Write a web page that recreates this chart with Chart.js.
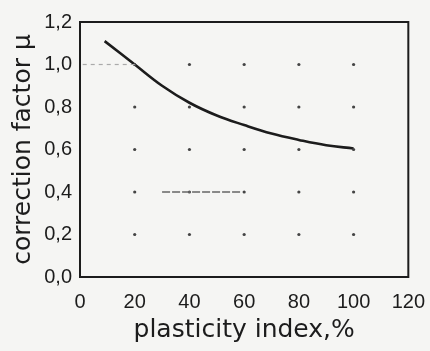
<!DOCTYPE html>
<html>
<head>
<meta charset="utf-8">
<script src="https://cdn.jsdelivr.net/npm/chart.js@4/dist/chart.umd.min.js"></script>
<style>
  html, body { margin: 0; padding: 0; background: #f5f5f3; }
  #wrap { width: 430px; height: 351px; }
</style>
</head>
<body>
<div id="wrap"><canvas id="plot-area"></canvas></div>
<script>
// curve
const plasticity = [9, 20, 30, 40, 50, 60, 70, 80, 90, 100];
const factor = [1.11, 1.0, 0.9, 0.82, 0.76, 0.715, 0.675, 0.645, 0.62, 0.605];

// dotted grid points of the original sheet
const gridX = [20, 40, 60, 80, 100];
const gridY = [0.2, 0.4, 0.6, 0.8, 1.0];

// faint dashes left on the scan
const dash10 = [{ x: 1, y: 1.0 }, { x: 20, y: 1.0 }];
const dash04 = [{ x: 30, y: 0.4 }, { x: 59, y: 0.4 }];

const ink = "#1c1c1c";

function drawPlot() {
  let curve = {
    label: "mu",
    type: "line",
    data: plasticity.map((x, i) => ({ x: x, y: factor[i] })),
    borderColor: ink,
    borderWidth: 2.6,
    tension: 0.4,
    pointRadius: 0,
    fill: false,
  };
  let dots = {
    label: "grid",
    type: "scatter",
    data: gridX.flatMap((x) => gridY.map((y) => ({ x: x, y: y }))),
    backgroundColor: "#444",
    borderWidth: 0,
    pointRadius: 1.6,
  };
  let d1 = {
    label: "d1",
    type: "line",
    data: dash10,
    borderColor: "#aaa",
    borderWidth: 1.2,
    borderDash: [4, 4],
    pointRadius: 0,
  };
  let d2 = {
    label: "d2",
    type: "line",
    data: dash04,
    borderColor: "#666",
    borderWidth: 1.3,
    borderDash: [8, 2],
    pointRadius: 0,
  };

  const frame = {
    id: "frame",
    beforeDraw(chart) {
      const c = chart.ctx;
      c.save();
      c.fillStyle = "#f5f5f3";
      c.fillRect(0, 0, chart.width, chart.height);
      c.restore();
    },
    afterDatasetsDraw(chart) {
      const a = chart.chartArea;
      const c = chart.ctx;
      c.save();
      c.strokeStyle = ink;
      c.lineWidth = 2;
      c.strokeRect(a.left, a.top, a.right - a.left, a.bottom - a.top);
      c.restore();
    },
  };

  const font = { family: "Liberation Sans", size: 20 };
  const titleFont = { family: "DejaVu Sans", size: 25 };

  const config = {
    type: "scatter",
    data: { datasets: [d1, d2, dots, curve] },
    plugins: [frame],
    options: {
      responsive: true,
      maintainAspectRatio: false,
      animation: false,
      layout: { padding: { left: 8, right: 19, top: 22, bottom: 6 } },
      scales: {
        x: {
          type: "linear",
          min: 0,
          max: 120,
          grid: { display: false },
          border: { display: false },
          ticks: { stepSize: 20, color: ink, font: font, padding: 5 },
          title: {
            display: true,
            text: "plasticity index,%",
            color: ink,
            font: titleFont,
            padding: { top: 0, bottom: 0 },
          },
          afterFit: (s) => { s.height = 68; },
        },
        y: {
          min: 0,
          max: 1.2,
          grid: { display: false },
          border: { display: false },
          ticks: {
            stepSize: 0.2,
            color: ink,
            font: font,
            padding: 0,
            callback: (v) => v.toFixed(1).replace(".", ","),
          },
          title: {
            display: true,
            text: "correction factor μ",
            color: ink,
            font: titleFont,
            padding: { top: 0, bottom: 0 },
          },
          afterFit: (s) => { s.width = 72; },
        },
      },
      plugins: {
        legend: { display: false },
        tooltip: { enabled: false },
      },
    },
  };
  var ctx = document.getElementById("plot-area").getContext("2d");
  new Chart(ctx, config);
}

drawPlot();
</script>
</body>
</html>
